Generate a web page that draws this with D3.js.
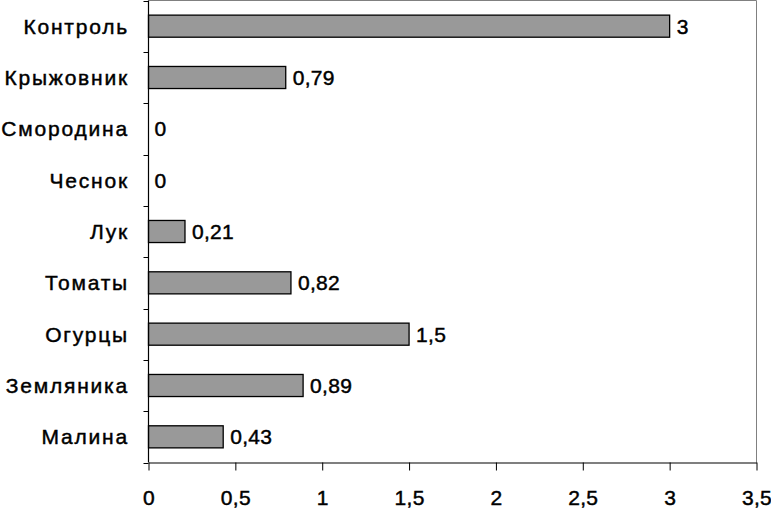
<!DOCTYPE html>
<html><head><meta charset="utf-8">
<script src="https://cdn.jsdelivr.net/npm/d3@7"></script>
<style>body{margin:0;background:#fff}svg{display:block}text{font-family:"Liberation Sans",Arial,sans-serif;fill:#000;stroke:#000;stroke-width:0.45px}</style>
</head><body>
<script>
const categories = ["Контроль","Крыжовник","Смородина","Чеснок","Лук","Томаты","Огурцы","Земляника","Малина"];
const values = [3,0.79,0,0,0.21,0.82,1.5,0.89,0.43];
const valueLabels = ["3","0,79","0","0","0,21","0,82","1,5","0,89","0,43"];
const xTicks = [0,0.5,1,1.5,2,2.5,3,3.5];
const xTickLabels = ["0","0,5","1","1,5","2","2,5","3","3,5"];

const W=771,H=509, L=148.5, R=756.5, T=0.5, B=462.5;
const svg=d3.select("body").append("svg").attr("width",W).attr("height",H);
const x=d3.scaleLinear().domain([0,3.5]).range([L,R]);
const y=d3.scaleBand().domain(categories).range([T,B]).paddingInner(0.57).paddingOuter(0.285);
const yb=d3.scaleBand().domain(categories).range([T,B]);

svg.append("line").attr("x1",L).attr("x2",R).attr("y1",T).attr("y2",T).attr("stroke","#808080");
svg.append("line").attr("x1",R).attr("x2",R).attr("y1",T).attr("y2",B).attr("stroke","#808080");

svg.selectAll("rect.bar").data(categories).enter().append("rect")
 .attr("x",x(0)).attr("y",d=>y(d)).attr("width",(d,i)=>x(values[i])-x(0)).attr("height",y.bandwidth())
 .attr("fill",(d,i)=>values[i]>0?"#999999":"none").attr("stroke",(d,i)=>values[i]>0?"#000":"none").attr("stroke-width",1.3);

svg.selectAll("text.val").data(categories).enter().append("text")
 .attr("x",(d,i)=>x(values[i])+(values[i]>0?7:6)).attr("y",d=>y(d)+y.bandwidth()/2).attr("dy","0.36em")
 .attr("font-size",21).attr("letter-spacing","0.3px").text((d,i)=>valueLabels[i]);

const xa=svg.append("g").attr("transform",`translate(0,${B})`)
 .call(d3.axisBottom(x).tickValues(xTicks).tickFormat((d,i)=>xTickLabels[i]).tickSize(8).tickSizeOuter(0));
xa.select(".domain").attr("stroke","#000").attr("stroke-width",1.2);
xa.selectAll(".tick line").attr("stroke","#000");
xa.selectAll(".tick text").attr("font-size",21).attr("y",28).attr("dy","0.71em").attr("letter-spacing","0.3px")
 .attr("font-family","'Liberation Sans',Arial,sans-serif").attr("fill","#000");

svg.append("line").attr("x1",L).attr("x2",L).attr("y1",T).attr("y2",B).attr("stroke","#000").attr("stroke-width",1.2);
const bounds=categories.map(c=>yb(c)).concat([B]);
svg.selectAll("line.yt").data(bounds).enter().append("line")
 .attr("x1",L-5).attr("x2",L).attr("y1",d=>Math.round(d)+0.5).attr("y2",d=>Math.round(d)+0.5).attr("stroke","#000");

svg.selectAll("text.cat").data(categories).enter().append("text")
 .attr("x",129).attr("y",d=>yb(d)+yb.bandwidth()/2).attr("dy","0.36em").attr("text-anchor","end")
 .attr("font-size",21).attr("letter-spacing","1.8px").text(d=>d);
</script>
</body></html>
